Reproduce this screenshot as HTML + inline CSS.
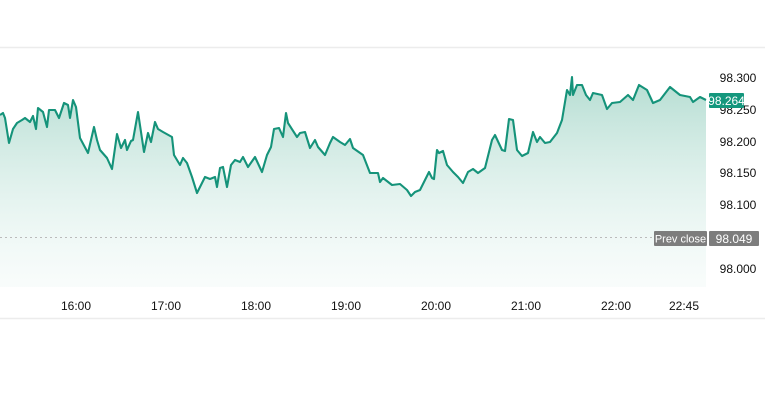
<!DOCTYPE html>
<html><head><meta charset="utf-8"><style>
html,body{margin:0;padding:0;background:#fff;}
body{width:765px;height:402px;overflow:hidden;font-family:"Liberation Sans",sans-serif;}
</style></head><body>
<svg width="765" height="402" xmlns="http://www.w3.org/2000/svg" style="display:block">
<defs>
<linearGradient id="g" x1="0" y1="0" x2="0" y2="1">
<stop offset="0" stop-color="#b0dbcf" stop-opacity="0.95"/>
<stop offset="1" stop-color="#eaf6f3" stop-opacity="0.3"/>
</linearGradient>
</defs>
<line x1="0" y1="47.5" x2="765" y2="47.5" stroke="#ececec" stroke-width="1.5"/>
<line x1="0" y1="318.5" x2="765" y2="318.5" stroke="#ececec" stroke-width="1.5"/>
<polygon fill="url(#g)" points="0,287 0,115 3,113 5,118 9,143 13,129 17,123 22,120 25,118 30,122 33,116 36,129 38,108 43,112 47,127 49,110 55,110 59,118 64,103 68,105 70,118 73,100 76,107 80,138 88,153 94,127 97,140 100,150 107,158 112,169 117,134 121,148 125,140 127,150 131,141 133,140 138,112 144,152 148,133 151,142 155,122 158,129 163,132 172,137 174,155 180,165 183,158 187,163 192,177 197,193 200,187 205,177 210,179 215,177 217,187 220,168 223,167 227,187 231,165 235,160 240,162 243,157 248,167 255,157 262,172 267,155 271,147 274,129 279,128 283,137 286,113 288,123 297,137 300,133 305,132 310,148 315,140 318,147 325,155 330,143 333,137 340,142 345,145 350,139 353,148 363,155 370,173 378,173 380,182 383,178 392,185 400,184 407,190 411,196 415,192 420,190 425,180 429,172 432,178 434,179 437,150 439,153 443,151 447,165 453,172 458,177 463,183 468,172 473,169 478,173 485,168 492,140 495,135 502,150 505,151 509,119 513,120 517,150 522,156 528,153 533,132 537,142 540,137 545,143 550,142 557,133 562,120 567,90 570,95 572,77 573,95 577,85 582,85 586,95 590,100 593,93 602,95 607,109 612,103 620,102 628,95 633,100 639,85 647,90 653,103 660,100 670,87 680,95 690,97 693,102 700,97 706,100 706,287"/>
<line x1="0" y1="237.5" x2="654" y2="237.5" stroke="#bbb" stroke-width="1" stroke-dasharray="2,3"/>
<polyline fill="none" stroke="#15937a" stroke-width="2.1" stroke-linejoin="round" points="0,115 3,113 5,118 9,143 13,129 17,123 22,120 25,118 30,122 33,116 36,129 38,108 43,112 47,127 49,110 55,110 59,118 64,103 68,105 70,118 73,100 76,107 80,138 88,153 94,127 97,140 100,150 107,158 112,169 117,134 121,148 125,140 127,150 131,141 133,140 138,112 144,152 148,133 151,142 155,122 158,129 163,132 172,137 174,155 180,165 183,158 187,163 192,177 197,193 200,187 205,177 210,179 215,177 217,187 220,168 223,167 227,187 231,165 235,160 240,162 243,157 248,167 255,157 262,172 267,155 271,147 274,129 279,128 283,137 286,113 288,123 297,137 300,133 305,132 310,148 315,140 318,147 325,155 330,143 333,137 340,142 345,145 350,139 353,148 363,155 370,173 378,173 380,182 383,178 392,185 400,184 407,190 411,196 415,192 420,190 425,180 429,172 432,178 434,179 437,150 439,153 443,151 447,165 453,172 458,177 463,183 468,172 473,169 478,173 485,168 492,140 495,135 502,150 505,151 509,119 513,120 517,150 522,156 528,153 533,132 537,142 540,137 545,143 550,142 557,133 562,120 567,90 570,95 572,77 573,95 577,85 582,85 586,95 590,100 593,93 602,95 607,109 612,103 620,102 628,95 633,100 639,85 647,90 653,103 660,100 670,87 680,95 690,97 693,102 700,97 706,100"/>
<g font-size="12" fill="#111" text-anchor="middle">
<text x="738" y="82">98.300</text>
<text x="738" y="114">98.250</text>
<text x="738" y="146">98.200</text>
<text x="738" y="177">98.150</text>
<text x="738" y="209">98.100</text>
<text x="738" y="273">98.000</text>
</g>
<rect x="709" y="93" width="35" height="15" rx="1" fill="#14977d"/>
<text x="726.5" y="105" font-size="12" fill="#fff" text-anchor="middle">98.264</text>
<rect x="654" y="231" width="53" height="15" rx="1" fill="#7d7d7d"/>
<text x="680.5" y="242.5" font-size="11" fill="#fff" text-anchor="middle">Prev close</text>
<rect x="709" y="231" width="50" height="15" rx="1" fill="#7d7d7d"/>
<text x="734" y="243" font-size="12" fill="#fff" text-anchor="middle">98.049</text>
<g font-size="12" fill="#111" text-anchor="middle">
<text x="76" y="310">16:00</text>
<text x="166" y="310">17:00</text>
<text x="256" y="310">18:00</text>
<text x="346" y="310">19:00</text>
<text x="436" y="310">20:00</text>
<text x="526" y="310">21:00</text>
<text x="616" y="310">22:00</text>
<text x="684" y="310">22:45</text>
</g>
</svg>
</body></html>
